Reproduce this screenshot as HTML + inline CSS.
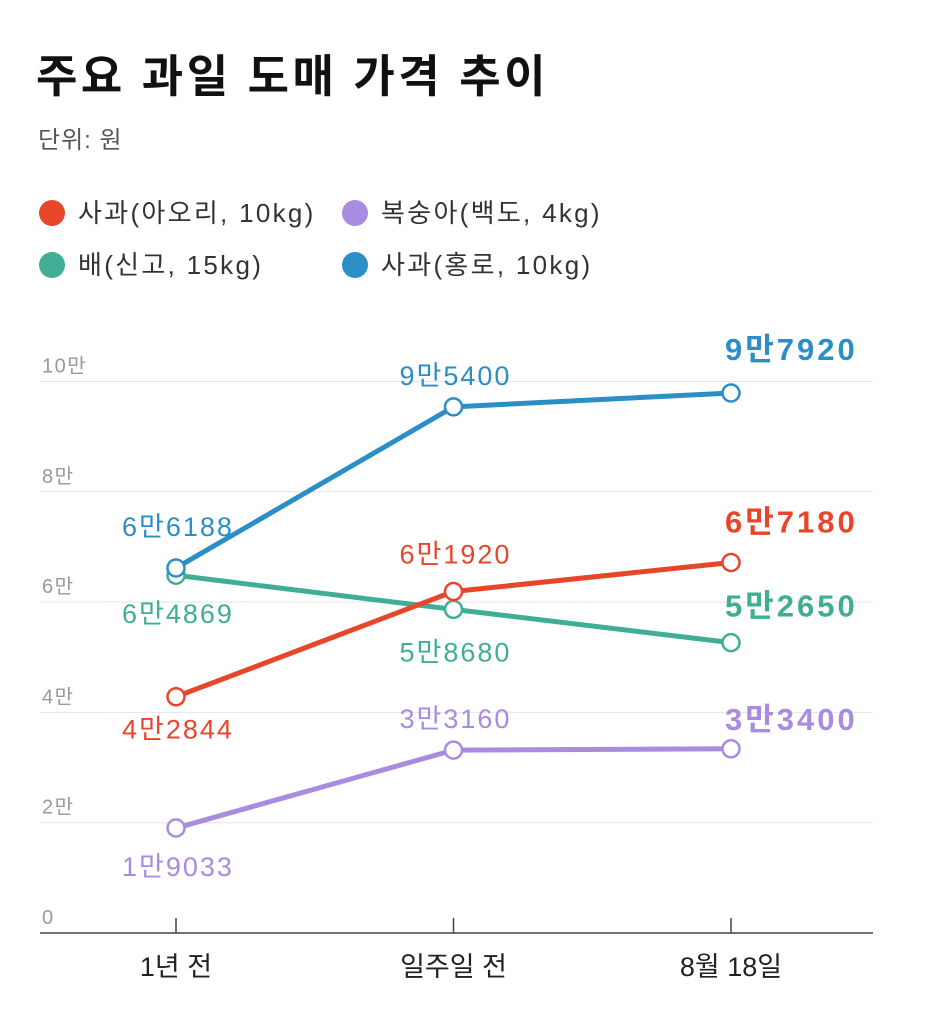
<!DOCTYPE html>
<html><head><meta charset="utf-8">
<style>
html,body{margin:0;padding:0;background:#fff;}
body{width:938px;height:1018px;overflow:hidden;font-family:"Liberation Sans","Noto Sans CJK KR",sans-serif;}
</style></head>
<body>
<svg width="938" height="1018" xmlns="http://www.w3.org/2000/svg" font-family="Liberation Sans, Noto Sans CJK KR, sans-serif">
<text x="36" y="92" font-size="45" font-weight="bold" fill="#111" letter-spacing="3.5">주요 과일 도매 가격 추이</text>
<text x="38" y="148" font-size="24" fill="#555" letter-spacing="1">단위: 원</text>
<g id="legend"></g>
<g id="grid"></g>
<g id="series"></g>
<g id="xaxis"></g>
</svg>
<script>
const categories = ["1년 전","일주일 전","8월 18일"];
const seriesNames = ["사과(아오리, 10kg)","복숭아(백도, 4kg)","배(신고, 15kg)","사과(홍로, 10kg)"];
const seriesColors = ["#e8462a","#a98be0","#3fae94","#2b8ec6"];
const apple1 = [42844,61920,67180];
const peach = [19033,33160,33400];
const pear = [64869,58680,52650];
const apple2 = [66188,95400,97920];
const labelsApple1 = ["4만2844","6만1920","6만7180"];
const labelsPeach = ["1만9033","3만3160","3만3400"];
const labelsPear = ["6만4869","5만8680","5만2650"];
const labelsApple2 = ["6만6188","9만5400","9만7920"];
const yTicks = [0,20000,40000,60000,80000,100000];
const yTickLabels = ["0","2만","4만","6만","8만","10만"];

const NS="http://www.w3.org/2000/svg";
function y(v){return 933 - v/20000*110.3;}
function x(i){return 176 + i*277.5;}
function mk(tag,attrs,parent,text){const e=document.createElementNS(NS,tag);for(const k in attrs)e.setAttribute(k,attrs[k]);if(text!==undefined)e.textContent=text;parent.appendChild(e);return e;}

const legend=document.getElementById('legend');
const legPos=[[52,213],[355,213],[52,265],[355,265]];
[0,1,2,3].forEach((s,i)=>{
  const [lx,ly]=legPos[i];
  const c=mk('circle',{cx:lx,cy:ly,r:13,fill:seriesColors[s]},legend);
  
  
  const t=mk('text',{x:lx+26,y:ly+9,'font-size':26,fill:'#333','letter-spacing':2.3},legend,seriesNames[s]);
  
  
});

const grid=document.getElementById('grid');
yTicks.forEach((v,i)=>{
  if(i>0){const l=mk('line',{x1:40,x2:873,y1:y(v),y2:y(v),stroke:'#e4e4e4','stroke-width':1},grid);
  
  }
  const t=mk('text',{x:42,y:y(v)-9,'font-size':20,fill:'#999','letter-spacing':1.5},grid,yTickLabels[i]);
  
  
});
const ax=document.getElementById('xaxis');
const base=mk('line',{x1:40,x2:873,y1:933,y2:933,stroke:'#444','stroke-width':1.5},ax);


categories.forEach((c,i)=>{
  const tk=mk('line',{x1:x(i),x2:x(i),y1:918,y2:933,stroke:'#444','stroke-width':1.5},ax);
  
  
  const t=mk('text',{x:x(i),y:976,'font-size':27,fill:'#222','text-anchor':'middle'},ax,c);
  
  
});

const sg=document.getElementById('series');
const allSeries=[
  {vals:pear,labels:labelsPear,color:seriesColors[2],off:[48,52,-26],name:'pear'},
  {vals:apple1,labels:labelsApple1,color:seriesColors[0],off:[42,-28,-30],name:'apple-aori'},
  {vals:peach,labels:labelsPeach,color:seriesColors[1],off:[48,-22,-19],name:'peach'},
  {vals:apple2,labels:labelsApple2,color:seriesColors[3],off:[-32,-22,-33],name:'apple-hongro'}
];
allSeries.forEach(s=>{
  const pts=s.vals.map((v,i)=>x(i)+','+y(v)).join(' ');
  const pl=mk('polyline',{points:pts,fill:'none',stroke:s.color,'stroke-width':5,'stroke-linejoin':'round'},sg);
  
  
});
allSeries.forEach(s=>{
  s.vals.forEach((v,i)=>{
    const c=mk('circle',{cx:x(i),cy:y(v),r:8.5,fill:'#fff',stroke:s.color,'stroke-width':2.5},sg);
    
    
    const last=i===2;
    const t=mk('text',{x:last?x(i)-6:x(i)+2,y:y(v)+s.off[i],'font-size':last?31:27,'font-weight':last?'bold':'normal',fill:s.color,'text-anchor':last?'start':'middle','letter-spacing':last?3:2},sg,s.labels[i]);
    
    
  });
});
</script>
</body></html>
